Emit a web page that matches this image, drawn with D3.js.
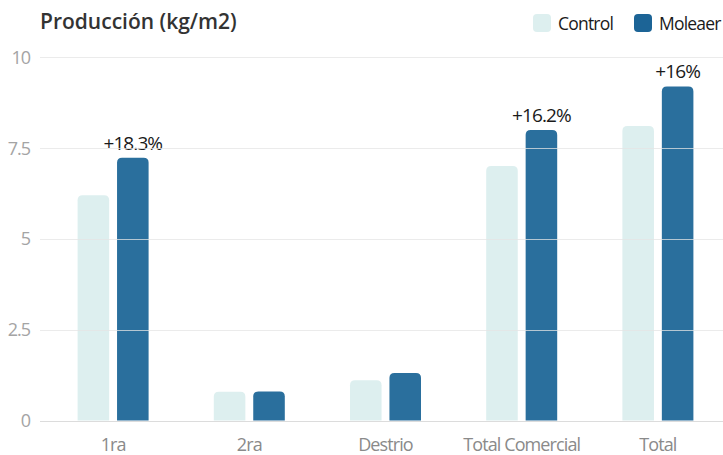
<!DOCTYPE html>
<html>
<head>
<meta charset="utf-8">
<script src="https://cdn.jsdelivr.net/npm/d3@7"></script>
<style>
  html, body { margin: 0; padding: 0; background: #fff; }
  svg { display: block; font-family: "Open Sans", "Noto Sans", sans-serif; }
</style>
</head>
<body>
<svg id="chart" width="723" height="455"></svg>
<script>
// Production per category (kg/m2)
const categories = ["1ra", "2ra", "Destrio", "Total Comercial", "Total"];
const seriesNames = ["Control", "Moleaer"];
const controlValues = [6.2, 0.79, 1.11, 7.0, 8.1];
const moleaerValues = [7.23, 0.8, 1.31, 7.99, 9.19];
const increaseLabels = ["+18.3%", null, null, "+16.2%", "+16%"];
const yTicks = [0, 2.5, 5, 7.5, 10];
const yTickLabels = ["0", "2.5", "5", "7.5", "10"];

const colors = { Control: "#ddefef", Moleaer: "#2a6f9d" };
const legendColors = { Control: "#ddefef", Moleaer: "#1c6496" };

const svg = d3.select("#chart");
const width = 723, height = 455;

const x = d3.scaleBand()
  .domain(categories)
  .range([45, 726])
  .paddingInner(0)
  .paddingOuter(0);

const x1 = d3.scaleBand()
  .domain(seriesNames)
  .range([0, 71])
  .paddingInner(0.2);

const y = d3.scaleLinear()
  .domain([0, 10])
  .range([420.5, 57]);

const data = categories.map((c, i) => ({
  category: c,
  values: [
    { series: "Control", value: controlValues[i] },
    { series: "Moleaer", value: moleaerValues[i] }
  ],
  label: increaseLabels[i]
}));

// Path for a bar with rounded top corners
function topRounded(x0, y0, w, h, r) {
  r = Math.min(r, w / 2, h);
  return `M${x0},${y0 + h}V${y0 + r}Q${x0},${y0} ${x0 + r},${y0}H${x0 + w - r}Q${x0 + w},${y0} ${x0 + w},${y0 + r}V${y0 + h}Z`;
}

const groupOffset = (x.bandwidth() - 71) / 2;

// Bars
const groups = svg.append("g").selectAll("g")
  .data(data)
  .join("g")
  .attr("transform", d => `translate(${x(d.category) + groupOffset},0)`);

groups.selectAll("path")
  .data(d => d.values)
  .join("path")
  .attr("d", d => topRounded(x1(d.series), y(d.value), x1.bandwidth(), y(0) - y(d.value), 5))
  .attr("fill", d => colors[d.series]);

// Gridlines (drawn over bars, very faint)
const grid = svg.append("g");
grid.selectAll("line")
  .data(yTicks)
  .join("line")
  .attr("x1", 40)
  .attr("x2", width)
  .attr("y1", d => Math.round(y(d)) + 0.5)
  .attr("y2", d => Math.round(y(d)) + 0.5)
  .attr("stroke", d => d === 0 ? "#dcdcdc" : "#e4e4e4")
  .attr("stroke-opacity", d => d === 0 ? 1 : 0.75)
  .attr("stroke-width", 1);

// Y axis labels
const yAxis = d3.axisLeft(y)
  .tickValues(yTicks)
  .tickFormat((d, i) => yTickLabels[i])
  .tickSize(0)
  .tickPadding(0);
const yg = svg.append("g")
  .attr("transform", `translate(30,0)`)
  .call(yAxis);
yg.select(".domain").remove();
yg.selectAll("text")
  .attr("fill", "#a4a4a4")
  .attr("font-size", 18)
  .attr("font-family", "Open Sans, sans-serif")
  .attr("dy", "0.34em")
  .style("letter-spacing", "-1px");

// X axis labels
const xAxis = d3.axisBottom(x).tickSize(0).tickPadding(0);
const xg = svg.append("g")
  .attr("transform", `translate(0,438)`)
  .call(xAxis);
xg.select(".domain").remove();
xg.selectAll("text")
  .attr("fill", "#8a8a8a")
  .attr("font-size", 18)
  .attr("font-family", "Open Sans, sans-serif")
  .attr("dy", "0.71em")
  .style("letter-spacing", "-0.9px");

// Increase labels above Moleaer bars
groups.filter(d => d.label)
  .append("text")
  .attr("x", x1("Moleaer") + x1.bandwidth() / 2)
  .attr("y", (d) => y(d.values[1].value) - 8)
  .attr("text-anchor", "middle")
  .attr("fill", "#1a1a1a")
  .attr("font-size", 19)
  .style("letter-spacing", "-0.9px")
  .text(d => d.label);

// Title
svg.append("text")
  .attr("x", 40)
  .attr("y", 29)
  .attr("fill", "#333")
  .attr("font-size", 21)
  .attr("font-weight", 600)
  .text("Producción (kg/m2)");

// Legend
const legendItems = [
  { name: "Control", x: 533 },
  { name: "Moleaer", x: 634 }
];
const legend = svg.append("g").selectAll("g")
  .data(legendItems)
  .join("g")
  .attr("transform", d => `translate(${d.x},14)`);
legend.append("rect")
  .attr("width", 18).attr("height", 18)
  .attr("rx", 4)
  .attr("fill", d => legendColors[d.name]);
legend.append("text")
  .attr("x", 25)
  .attr("y", 15.5)
  .attr("font-size", 17.5)
  .attr("fill", "#1a1a1a")
  .style("letter-spacing", "-0.8px")
  .text(d => d.name);
</script>
</body>
</html>
